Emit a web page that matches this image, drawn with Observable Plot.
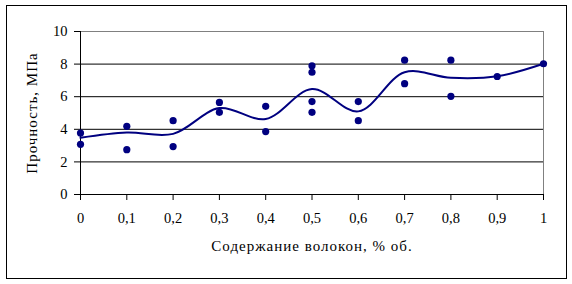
<!DOCTYPE html>
<html>
<head>
<meta charset="utf-8">
<script src="https://cdn.jsdelivr.net/npm/d3@7"></script>
<script src="https://cdn.jsdelivr.net/npm/@observablehq/plot@0.6"></script>
<style>
  html, body { margin: 0; padding: 0; background: white; }
  #wrap { position: relative; width: 572px; height: 284px; }
  #border { position: absolute; left: 6px; top: 5px; width: 559px; height: 272px; border: 1px solid black; pointer-events: none; }
</style>
</head>
<body>
<div id="wrap"><div id="border"></div></div>
<script>
// Measured points (fibre content, strength)
const pointX = [0, 0, 0.1, 0.1, 0.2, 0.2, 0.3, 0.3, 0.4, 0.4, 0.5, 0.5, 0.5, 0.5, 0.6, 0.6, 0.7, 0.7, 0.8, 0.8, 0.9, 1];
const pointY = [3.77, 3.08, 4.18, 2.75, 4.53, 2.94, 5.65, 5.04, 5.41, 3.86, 7.9, 7.5, 5.7, 5.04, 5.7, 4.53, 8.24, 6.8, 8.24, 6.02, 7.24, 8.02];

// Smoothed curve (mean values)
const lineX = [0, 0.1, 0.2, 0.3, 0.4, 0.5, 0.6, 0.7, 0.8, 0.9, 1];
const lineY = [3.48, 3.8, 3.72, 5.3, 4.63, 6.47, 5.1, 7.5, 7.16, 7.25, 8.02];

const xTicks = [0, 0.1, 0.2, 0.3, 0.4, 0.5, 0.6, 0.7, 0.8, 0.9, 1];
const xTickLabels = ["0", "0,1", "0,2", "0,3", "0,4", "0,5", "0,6", "0,7", "0,8", "0,9", "1"];
const yTicks = [0, 2, 4, 6, 8, 10];
const yGrid = [2, 4, 6, 8];

const xLabel = "Содержание волокон, % об.";
const yLabel = "Прочность, МПа";

const points = pointX.map((x, i) => ({x, y: pointY[i]}));
const curve = lineX.map((x, i) => ({x, y: lineY[i]}));
const navy = "#000080";

const chart = Plot.plot({
  width: 572,
  height: 284,
  marginLeft: 80,
  marginRight: 29,
  marginTop: 31,
  marginBottom: 90,
  style: {fontFamily: "'Liberation Serif', 'Times New Roman', serif", fontSize: "14px", color: "black", background: "transparent", overflow: "visible"},
  x: {domain: [0, 1]},
  y: {domain: [0, 10]},
  marks: [
    Plot.ruleY(yGrid, {stroke: "black", strokeWidth: 1}),
    Plot.ruleY([10], {stroke: "#808080", strokeWidth: 1}),
    Plot.ruleX([1], {stroke: "#808080", strokeWidth: 1}),
    Plot.axisX({ticks: xTicks, tickFormat: (d, i) => xTickLabels[i], tickSize: 6, tickPadding: 12, label: null, stroke: "black", fontSize: 14.5}),
    Plot.axisY({ticks: yTicks, tickSize: 6, tickPadding: 7, label: null, fontSize: 14.5}),
    Plot.ruleX([0], {stroke: "black"}),
    Plot.ruleY([0], {stroke: "black"}),
    Plot.line(curve, {x: "x", y: "y", curve: "catmull-rom", stroke: navy, strokeWidth: 2}),
    Plot.dot(points, {x: "x", y: "y", r: 3.6, fill: navy, stroke: "none"}),
    Plot.text([xLabel], {frameAnchor: "bottom", dy: 56, textAnchor: "middle", fontSize: 15, fill: "black"}),
    Plot.text([yLabel], {frameAnchor: "left", dx: -48, textAnchor: "middle", rotate: -90, fontSize: 15, fill: "black"})
  ]
});
document.getElementById("wrap").prepend(chart);
// widen the axis titles a little, as in the reference rendering
chart.querySelectorAll("text").forEach(t => {
  if (t.textContent === xLabel || t.textContent === yLabel) t.style.letterSpacing = "1px";
});
</script>
</body>
</html>
